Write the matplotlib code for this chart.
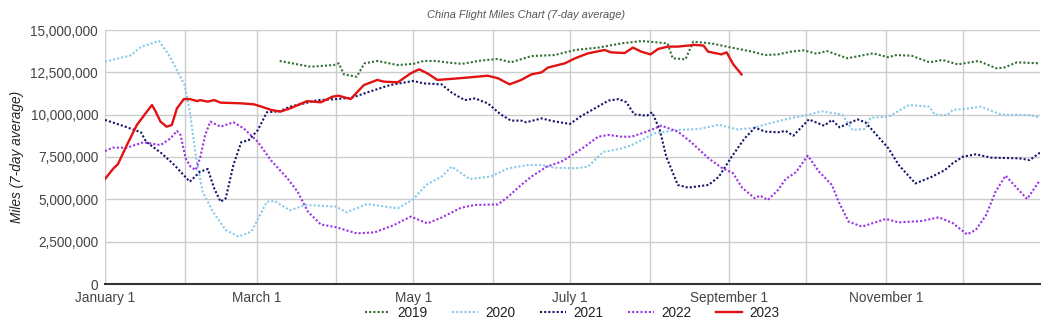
import matplotlib
matplotlib.use("Agg")
import matplotlib.pyplot as plt
from matplotlib.ticker import FuncFormatter

plt.rcParams['font.family'] = ['Liberation Sans', 'DejaVu Sans']

# day of year (0 = Jan 1) and miles in millions
days_2019 = [68, 74, 80, 89, 91, 93, 98, 101, 106, 114, 120, 124, 129, 134, 139, 146, 153, 158,
             166, 175, 183, 192, 201, 209, 219, 221, 226, 229, 236, 244, 252, 257, 262, 267, 272,
             277, 281, 289, 299, 305, 308, 314, 321, 326, 332, 340, 347, 350, 355, 364]
miles_2019 = [13.17, 13.0, 12.83, 12.93, 13.03, 12.38, 12.24, 13.03, 13.17, 12.93, 13.0, 13.17,
              13.17, 13.07, 13.0, 13.19, 13.29, 13.09, 13.46, 13.52, 13.82, 13.96, 14.21, 14.35,
              14.21, 13.33, 13.27, 14.31, 14.21, 13.96, 13.72, 13.52, 13.56, 13.72, 13.8, 13.6,
              13.76, 13.33, 13.62, 13.39, 13.52, 13.48, 13.09, 13.23, 12.97, 13.17, 12.74, 12.78,
              13.09, 13.03]

days_2020 = [0, 10, 14, 21, 25, 31, 33, 35.5, 38, 42, 47, 52, 57, 59, 63, 66, 72, 78, 90, 94,
             102, 114, 120, 125, 131, 135, 142, 150, 157, 165, 170, 175, 183, 188, 194, 201, 205,
             214, 223, 231, 239, 246, 252, 259, 267, 274, 279, 287, 291, 296, 298, 305, 313, 321,
             323, 328, 330, 334, 341, 349, 360, 364]
miles_2020 = [13.13, 13.5, 14.0, 14.35, 13.5, 11.75, 10.2, 7.42, 5.45, 4.27, 3.19, 2.8, 3.09,
              3.68, 4.86, 4.9, 4.35, 4.67, 4.57, 4.23, 4.72, 4.47, 5.0, 5.85, 6.34, 6.93, 6.2,
              6.34, 6.83, 7.03, 7.03, 6.87, 6.83, 6.93, 7.8, 8.0, 8.2, 8.9, 9.1, 9.15, 9.4, 9.13,
              9.2, 9.5, 9.8, 10.0, 10.2, 10.0, 9.1, 9.15, 9.82, 9.88, 10.57, 10.47, 10.0, 9.98,
              10.28, 10.33, 10.47, 10.0, 9.98, 9.82]

days_2021 = [0, 6, 14, 16, 22, 27, 33, 37, 40, 42.5, 45, 47, 50, 53, 56, 59.5, 63, 68, 72, 83,
             90, 96, 103, 111, 120, 124, 131, 135, 140, 144, 149, 154, 158, 162, 164, 170, 174,
             181, 185, 191, 196, 200, 203, 206, 211, 213, 216, 218.5, 223, 227, 235, 239, 244,
             249, 253, 257, 262, 265, 268, 274, 280, 283, 286, 293, 296, 305, 309, 315.5, 322,
             327, 330, 334, 339, 345, 356, 360, 364]
miles_2021 = [9.69, 9.39, 8.96, 8.4, 7.72, 7.03, 6.04, 6.63, 6.79, 5.65, 4.86, 5.06, 7.03, 8.37,
              8.5, 9.09, 10.14, 10.2, 10.47, 10.86, 10.92, 11.0, 11.36, 11.75, 11.99, 11.85,
              11.79, 11.3, 10.86, 10.96, 10.67, 10.02, 9.65, 9.65, 9.55, 9.78, 9.63, 9.45, 9.88,
              10.4, 10.83, 10.92, 10.73, 10.02, 9.94, 10.14, 9.09, 7.52, 5.85, 5.69, 5.85, 6.34,
              7.52, 8.6, 9.23, 9.0, 8.96, 9.04, 8.76, 9.72, 9.35, 9.69, 9.25, 9.72, 9.55, 8.01,
              7.03, 5.94, 6.34, 6.73, 7.13, 7.52, 7.66, 7.46, 7.42, 7.32, 7.76]

days_2022 = [0, 3, 8.5, 15, 21.6, 25.5, 28, 29.4, 31.4, 33.3, 35.3, 37, 39, 41, 45, 50, 54,
             59.5, 64.5, 71, 75, 79, 84, 90, 98, 105, 112.5, 119, 125.5, 131, 138.6, 144, 153,
             157, 162, 166, 172, 177.6, 181.5, 186.7, 192, 196, 201, 205, 211, 216.6, 223, 228,
             235, 240, 244.5, 248, 253, 255, 258, 262, 265, 269, 273.6, 278, 283, 285.6, 289.5,
             294.7, 298.6, 304, 309, 318, 324.6, 330, 335.6, 339, 343, 346.7, 350.6, 354.5, 359,
             364]
miles_2022 = [7.85, 8.05, 8.05, 8.37, 8.2, 8.6, 9.04, 8.8, 7.42, 6.93, 6.73, 7.42, 8.8, 9.59,
              9.29, 9.55, 9.19, 8.4, 7.32, 6.24, 5.45, 4.27, 3.52, 3.35, 2.99, 3.05, 3.48, 3.98,
              3.58, 3.92, 4.5, 4.67, 4.7, 5.16, 5.85, 6.34, 6.93, 7.22, 7.58, 8.11, 8.7, 8.8,
              8.7, 8.7, 9.0, 9.35, 9.0, 8.4, 7.42, 6.87, 6.54, 5.69, 5.06, 5.22, 4.96, 5.55, 6.2,
              6.6, 7.58, 6.63, 5.85, 4.86, 3.68, 3.39, 3.58, 3.84, 3.64, 3.72, 3.94, 3.6, 2.93,
              3.19, 4.07, 5.45, 6.4, 5.75, 5.02, 6.14]

days_2023 = [0, 3.3, 5, 8.5, 12.4, 16.3, 18.3, 19.6, 21.6, 24, 26, 28, 30.7, 33, 36, 37, 40,
             42.5, 45, 53, 58, 61, 64.7, 68.3, 72, 78.7, 84, 88.5, 91, 95.6, 100.8, 106, 108.6,
             114, 119, 122.3, 125.5, 129.4, 134.6, 141, 149, 153, 157.5, 162, 166, 170, 172.4,
             179, 183, 188, 194.5, 197, 202.3, 205.5, 208.8, 212.4, 215.3, 219.2, 223, 229.6,
             233, 234.8, 240, 242, 244.6, 247.8]
miles_2023 = [6.2, 6.83, 7.07, 8.2, 9.39, 10.18, 10.57, 10.22, 9.59, 9.29, 9.39, 10.37, 10.92,
              10.92, 10.8, 10.86, 10.77, 10.86, 10.71, 10.67, 10.61, 10.47, 10.28, 10.18, 10.37,
              10.8, 10.73, 11.06, 11.12, 10.92, 11.75, 12.05, 11.95, 11.91, 12.44, 12.68, 12.44,
              12.05, 12.11, 12.19, 12.3, 12.15, 11.79, 12.05, 12.38, 12.5, 12.78, 13.03, 13.33,
              13.62, 13.82, 13.68, 13.64, 13.96, 13.72, 13.56, 13.88, 14.02, 14.02, 14.12, 14.08,
              13.72, 13.56, 13.68, 12.97, 12.38]

month_starts = [0, 31, 59, 90, 120, 151, 181, 212, 243, 273, 304, 334]
month_labels = ["January 1", "", "March 1", "", "May 1", "", "July 1", "",
                "September 1", "", "November 1", ""]

series = [
    ("2019", days_2019, miles_2019, "#336e33", (0, (1, 1))),
    ("2020", days_2020, miles_2020, "#87c9ea", (0, (1, 1))),
    ("2021", days_2021, miles_2021, "#15156a", (0, (1, 1))),
    ("2022", days_2022, miles_2022, "#9a32e6", (0, (1, 1))),
    ("2023", days_2023, miles_2023, "#e31212", "-"),
]

fig = plt.figure(figsize=(10.52, 3.26), dpi=100)
ax = fig.add_axes([105 / 1052, 1 - 284 / 326, 935 / 1052, 254 / 326])

for name, d, m, col, ls in series:
    lw = 1.7 if ls == "-" else 1.5
    ax.plot(d, [v * 1e6 for v in m], color=col, linestyle=ls, linewidth=lw, label=name)

ax.set_xlim(0, 364)
ax.set_ylim(0, 15e6)
ax.set_xticks(month_starts)
ax.set_xticklabels(month_labels)
ax.set_yticks([i * 2.5e6 for i in range(7)])
ax.yaxis.set_major_formatter(FuncFormatter(lambda v, p: f"{int(v):,}"))
ax.grid(True, color="#cccccc", linewidth=1)
ax.set_axisbelow(True)
for s in ["top", "right", "left"]:
    ax.spines[s].set_visible(False)
ax.spines["bottom"].set_color("#333333")
ax.spines["bottom"].set_linewidth(1.5)
ax.spines["bottom"].set_zorder(5)
ax.tick_params(length=0, labelsize=9.8, labelcolor="#444444")
ax.tick_params(axis="y", pad=5)
ax.tick_params(axis="x", pad=5)

ax.set_ylabel("Miles (7-day average)", fontsize=9.8, style="italic", color="#222222")
ax.yaxis.set_label_coords(-0.087, 0.5)

fig.text(526 / 1052, 1 - 15 / 326, "China Flight Miles Chart (7-day average)",
         ha="center", va="center", fontsize=7.9, style="italic", color="#555555")

fig.legend(loc="center", bbox_to_anchor=(572 / 1052, 1 - 313 / 326), ncol=5, frameon=False,
           fontsize=9.8, handlelength=1.9, handletextpad=0.55, columnspacing=1.8,
           labelcolor="#222222")

fig.savefig("out.png", dpi=100)
